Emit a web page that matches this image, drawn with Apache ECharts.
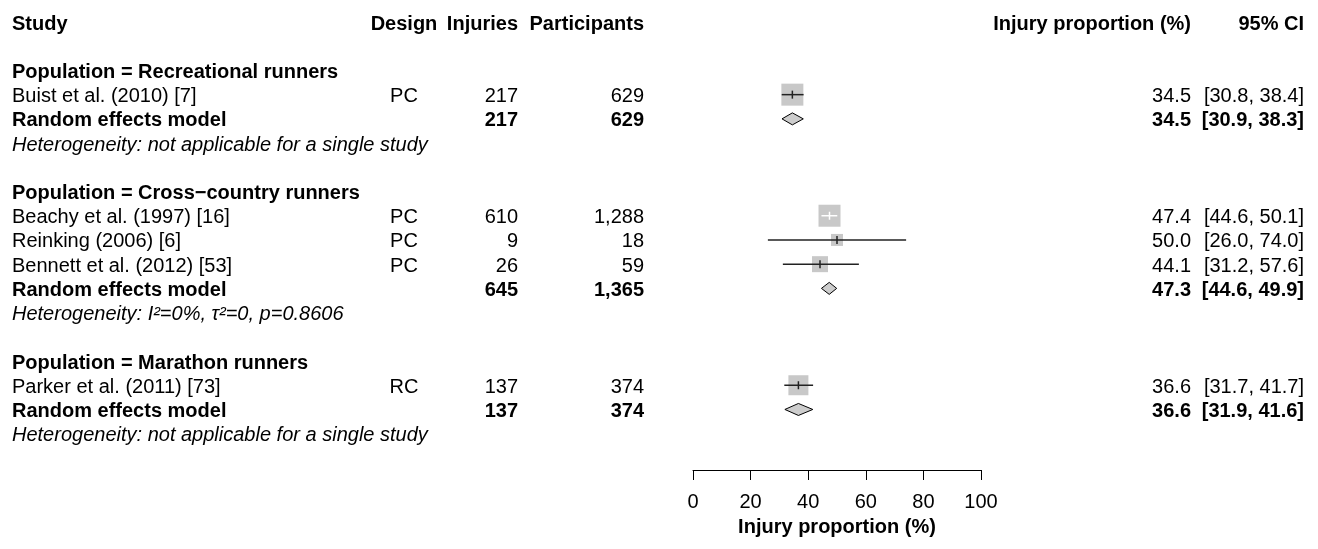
<!DOCTYPE html>
<html><head><meta charset="utf-8">
<script src="https://cdn.jsdelivr.net/npm/echarts@6/dist/echarts.min.js"></script>
<style>html,body{margin:0;padding:0;background:#fff}#chart{width:1318px;height:549px}</style>
</head><body><div id="chart"></div>
<script>
// ---------------- data ----------------
const groupNames = ['Recreational runners', 'Cross\u2212country runners', 'Marathon runners'];
const studyNames = ['Buist et al. (2010) [7]', 'Beachy et al. (1997) [16]', 'Reinking (2006) [6]', 'Bennett et al. (2012) [53]', 'Parker et al. (2011) [73]'];
const studyGroup = [0, 1, 1, 1, 2];
const designs = ['PC', 'PC', 'PC', 'PC', 'RC'];
const injuries = [217, 610, 9, 26, 137];
const participants = [629, 1288, 18, 59, 374];
const estimates = [34.5, 47.4, 50.0, 44.1, 36.6];
const ciLower = [30.8, 44.6, 26.0, 31.2, 31.7];
const ciUpper = [38.4, 50.1, 74.0, 57.6, 41.7];
const pooledInjuries = [217, 645, 137];
const pooledParticipants = [629, 1365, 374];
const pooledEstimates = [34.5, 47.3, 36.6];
const pooledLower = [30.9, 44.6, 31.9];
const pooledUpper = [38.3, 49.9, 41.6];
const heterogeneity = ['not applicable for a single study', 'I\u00b2=0%, \u03c4\u00b2=0, p=0.8606', 'not applicable for a single study'];
const headers = ['Study', 'Design', 'Injuries', 'Participants', 'Injury proportion (%)', '95% CI'];
const xTicks = [0, 20, 40, 60, 80, 100];
const axisTitle = 'Injury proportion (%)';

// ---------------- style ----------------
const FONT = '"Liberation Sans", Arial, Helvetica, sans-serif';
const FS = 20;
const TEXT_DY = 2;
const squareSizes = [22, 22, 12, 16, 20];
const columns = [
  { x: 12, align: 'left' },
  { x: 404, align: 'center' },
  { x: 518, align: 'right' },
  { x: 644, align: 'right' },
  { x: 1191, align: 'right' },
  { x: 1304, align: 'right' }
];

const fmt = n => n.toLocaleString('en-US');
const ci = (a, b) => '[' + a.toFixed(1) + ', ' + b.toFixed(1) + ']';

// ---------------- build rows ----------------
const tableRows = [];
const studyPoints = [];
const pooledPoints = [];
tableRows.push({ row: 0, cells: headers.map((h, i) => ({ col: i, text: h, weight: 'bold' })) });
let r = 2;
groupNames.forEach((g, gi) => {
  tableRows.push({ row: r, cells: [{ col: 0, text: 'Population = ' + g, weight: 'bold' }] });
  r++;
  studyNames.forEach((s, si) => {
    if (studyGroup[si] !== gi) return;
    tableRows.push({ row: r, cells: [
      { col: 0, text: s }, { col: 1, text: designs[si] },
      { col: 2, text: fmt(injuries[si]) }, { col: 3, text: fmt(participants[si]) },
      { col: 4, text: estimates[si].toFixed(1) }, { col: 5, text: ci(ciLower[si], ciUpper[si]) }
    ] });
    studyPoints.push([estimates[si], ciLower[si], ciUpper[si], r, squareSizes[si]]);
    r++;
  });
  tableRows.push({ row: r, cells: [
    { col: 0, text: 'Random effects model', weight: 'bold' },
    { col: 2, text: fmt(pooledInjuries[gi]), weight: 'bold' },
    { col: 3, text: fmt(pooledParticipants[gi]), weight: 'bold' },
    { col: 4, text: pooledEstimates[gi].toFixed(1), weight: 'bold' },
    { col: 5, text: ci(pooledLower[gi], pooledUpper[gi]), weight: 'bold' }
  ] });
  pooledPoints.push([pooledEstimates[gi], pooledLower[gi], pooledUpper[gi], r]);
  r++;
  tableRows.push({ row: r, cells: [{ col: 0, text: 'Heterogeneity: ' + heterogeneity[gi], italic: true }] });
  r += 2;
});

function renderTable(params, api) {
  const t = tableRows[params.dataIndex];
  const y = api.coord([0, api.value(1)])[1] + TEXT_DY;
  return {
    type: 'group',
    children: t.cells.map(c => ({
      type: 'text', x: columns[c.col].x, y: y,
      style: {
        text: c.text, fill: '#000', fontFamily: FONT, fontSize: FS,
        fontWeight: c.weight || 'normal', fontStyle: c.italic ? 'italic' : 'normal',
        align: columns[c.col].align, verticalAlign: 'middle'
      }
    }))
  };
}

function renderStudy(params, api) {
  const row = api.value(3), size = api.value(4);
  const pe = api.coord([api.value(0), row]);
  const pl = api.coord([api.value(1), row]);
  const ph = api.coord([api.value(2), row]);
  const half = size / 2;
  const inside = pl[0] >= pe[0] - half && ph[0] <= pe[0] + half;
  const lc = inside ? '#ffffff' : '#222222';
  return { type: 'group', children: [
    { type: 'rect', shape: { x: pe[0] - half, y: pe[1] - half, width: size, height: size }, style: { fill: '#c8c8c8' } },
    { type: 'line', shape: { x1: pl[0], y1: pe[1], x2: ph[0], y2: pe[1] }, style: { stroke: lc, lineWidth: 1.5 } },
    { type: 'line', shape: { x1: pe[0], y1: pe[1] - 4, x2: pe[0], y2: pe[1] + 4 }, style: { stroke: lc, lineWidth: 1.5 } }
  ] };
}

function renderDiamond(params, api) {
  const row = api.value(3);
  const pe = api.coord([api.value(0), row]);
  const pl = api.coord([api.value(1), row]);
  const ph = api.coord([api.value(2), row]);
  const h = 6;
  return { type: 'polygon', shape: { points: [[pl[0], pe[1]], [pe[0], pe[1] - h], [ph[0], pe[1]], [pe[0], pe[1] + h]] },
    style: { fill: '#cdcdcd', stroke: '#000', lineWidth: 1 } };
}

const chart = echarts.init(document.getElementById('chart'), null, { renderer: 'canvas' });
chart.setOption({
  animation: false,
  backgroundColor: '#fff',
  grid: { left: 693, right: 337, top: 22, bottom: 79, outerBoundsMode: 'none', containLabel: false },
  xAxis: {
    type: 'value', min: xTicks[0], max: xTicks[xTicks.length - 1], interval: xTicks[1] - xTicks[0],
    axisLine: { onZero: false, lineStyle: { color: '#000', width: 1 } },
    axisTick: { length: 10, lineStyle: { color: '#000', width: 1 } },
    axisLabel: { fontSize: FS, color: '#000', fontFamily: FONT, margin: 22 },
    splitLine: { show: false },
    name: axisTitle, nameLocation: 'middle', nameGap: 47,
    nameTextStyle: { fontSize: FS, fontWeight: 'bold', color: '#000', fontFamily: FONT }
  },
  yAxis: { type: 'value', min: 0, max: 18.5, inverse: true, show: false },
  series: [
    { type: 'custom', clip: false, renderItem: renderTable, data: tableRows.map(t => [0, t.row]), silent: true },
    { type: 'custom', clip: false, renderItem: renderStudy, data: studyPoints, silent: true },
    { type: 'custom', clip: false, renderItem: renderDiamond, data: pooledPoints, silent: true }
  ]
});
</script></body></html>
